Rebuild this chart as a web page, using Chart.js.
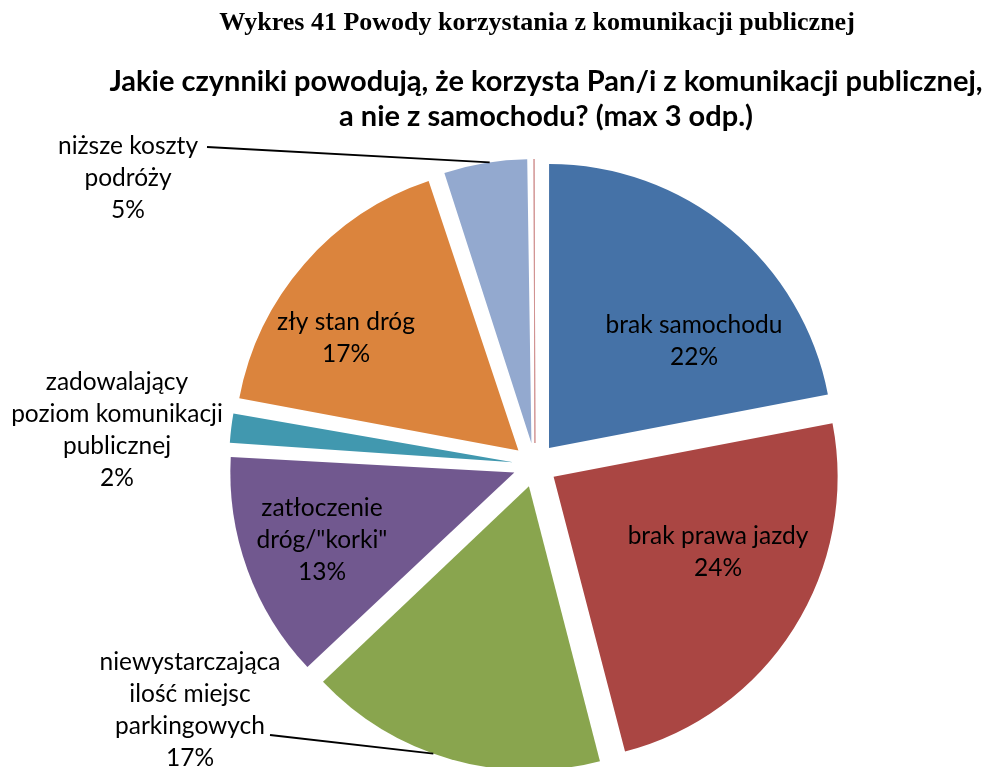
<!DOCTYPE html>
<html lang="pl">
<head>
<meta charset="UTF-8">
<title>Wykres 41 Powody korzystania z komunikacji publicznej</title>
<script src="https://cdn.jsdelivr.net/npm/chart.js"></script>
<style>
    body { margin: 0; background: #fff; }
    .wrap { position: relative; width: 997px; height: 767px; }
    .heading {
        position: absolute; left: 0; top: 7px; width: 1074px;
        text-align: center;
        font: bold 26px "Liberation Serif", "Times New Roman", serif;
        line-height: 30px;
    }
    .question {
        position: absolute; left: 0; top: 62px; width: 1092px;
        text-align: center;
        font: bold 29px Lato, "Open Sans", sans-serif;
        line-height: 35px;
    }
    #chartBox { position: absolute; left: 0; top: 0; width: 997px; height: 767px; }
</style>
</head>
<body>
<div class="wrap">
    <div id="chartBox"><canvas id="pieChart"></canvas></div>
    <div class="heading">Wykres 41 Powody korzystania z komunikacji publicznej</div>
    <div class="question">Jakie czynniki powodują, że korzysta Pan/i z komunikacji publicznej,<br>a nie z samochodu? (max 3 odp.)</div>
</div>

<script>
// reasons, clockwise from 12 o'clock
const categories = [
    'brak samochodu',
    'brak prawa jazdy',
    'niewystarczająca ilość miejsc parkingowych',
    'zatłoczenie dróg/"korki"',
    'zadowalający poziom komunikacji publicznej',
    'zły stan dróg',
    'niższe koszty podróży',
    'inne'
];
const shares = [22, 24, 17, 13, 2, 17, 5, 0.1];
const sliceColors = ['#4572A7', '#AA4643', '#89A54E', '#71588F', '#4198AF', '#DB843D', '#93A9CF', '#D19392'];

// label text split in lines (percent is added from the value)
const labelLines = [
    ['brak samochodu'],
    ['brak prawa jazdy'],
    ['niewystarczająca', 'ilość miejsc', 'parkingowych'],
    ['zatłoczenie', 'dróg/"korki"'],
    ['zadowalający', 'poziom komunikacji', 'publicznej'],
    ['zły stan dróg'],
    ['niższe koszty', 'podróży'],
    null
];

// where each label block is centred, and optional leader line
const labelPlace = [
    { x: 694, y: 341 },
    { x: 718, y: 552 },
    { x: 190, y: 710, leader: { x: 270, y: 735, t: 0.56 } },
    { x: 322, y: 540 },
    { x: 117, y: 430 },
    { x: 346, y: 338 },
    { x: 128, y: 178, leader: { x: 207, y: 147, t: 0.55 } },
    null
];

const RADIUS = 284;
const EXPLODE = 88;   // arc offset (drawn as offset / 4)
const LINE_H = 32;

// arcs grow by offset*fix for narrow slices; keep every slice the same radius
const evenRadius = {
    id: 'evenRadius',
    afterDatasetUpdate(chart, args) {
        const meta = args.meta;
        const R = meta.controller.outerRadius;
        meta.data.forEach(arc => {
            const fix = 1 - Math.sin(Math.min(Math.PI, arc.circumference));
            arc.outerRadius = R - (EXPLODE / 4) * fix;
        });
    }
};

const sliceLabels = {
    id: 'sliceLabels',
    afterDatasetsDraw(chart) {
        const ctx = chart.ctx;
        const meta = chart.getDatasetMeta(0);
        const R = meta.controller.outerRadius;
        ctx.save();
        ctx.font = '24.5px Lato, "Open Sans", sans-serif';
        ctx.fillStyle = '#000';
        ctx.textAlign = 'center';
        ctx.textBaseline = 'middle';
        meta.data.forEach((arc, i) => {
            const place = labelPlace[i];
            if (!place) return;
            const lines = labelLines[i].concat([Math.round(shares[i]) + '%']);
            const top = place.y - (lines.length - 1) * LINE_H / 2;
            lines.forEach((s, k) => ctx.fillText(s, place.x, top + k * LINE_H));
            if (place.leader) {
                const mid = (arc.startAngle + arc.endAngle) / 2;
                const a = arc.startAngle + place.leader.t * (arc.endAngle - arc.startAngle);
                const d = EXPLODE / 4;
                const ex = arc.x + Math.cos(mid) * d + Math.cos(a) * R;
                const ey = arc.y + Math.sin(mid) * d + Math.sin(a) * R;
                ctx.beginPath();
                ctx.strokeStyle = '#000';
                ctx.lineWidth = 1.8;
                ctx.moveTo(place.leader.x, place.leader.y);
                ctx.lineTo(ex, ey);
                ctx.stroke();
            }
        });
        ctx.restore();
    }
};

new Chart(document.getElementById('pieChart'), {
    type: 'pie',
    data: {
        labels: categories,
        datasets: [{
            data: shares,
            backgroundColor: sliceColors,
            borderColor: sliceColors,
            borderWidth: shares.map(v => v < 1 ? 1 : 0),
            offset: EXPLODE,
            radius: RADIUS
        }]
    },
    options: {
        responsive: true,
        maintainAspectRatio: false,
        animation: false,
        layout: { padding: { top: 163, left: 73, right: 0, bottom: 0 } },
        plugins: {
            legend: { display: false },
            tooltip: { enabled: false }
        }
    },
    plugins: [evenRadius, sliceLabels]
});
</script>
</body>
</html>
